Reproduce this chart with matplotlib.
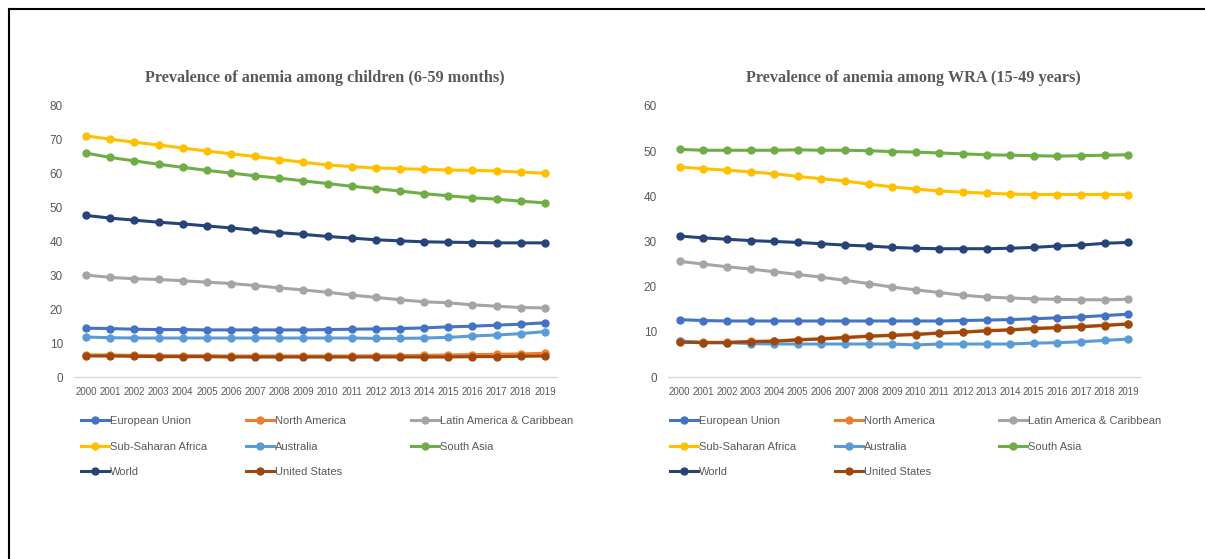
import matplotlib.pyplot as plt
from matplotlib.lines import Line2D

years = [str(y) for y in range(2000, 2020)]

series_names = ['European Union', 'North America', 'Latin America & Caribbean',
                'Sub-Saharan Africa', 'Australia', 'South Asia', 'World', 'United States']
series_colors = ['#4472C4', '#ED7D31', '#A5A5A5', '#FFC000',
                 '#5B9BD5', '#70AD47', '#264478', '#9E480E']

# children 6-59 months
child_eu = [14.4, 14.3, 14.1, 14.0, 14.0, 13.9, 13.9, 13.9, 13.9, 13.9,
            14.0, 14.1, 14.2, 14.3, 14.5, 14.8, 15.0, 15.3, 15.6, 16.0]
child_na = [6.5, 6.5, 6.4, 6.3, 6.3, 6.3, 6.2, 6.2, 6.2, 6.2,
            6.2, 6.2, 6.3, 6.3, 6.4, 6.5, 6.6, 6.7, 6.8, 7.0]
child_lac = [30.1, 29.4, 29.0, 28.8, 28.4, 28.0, 27.6, 27.0, 26.3, 25.7,
             25.0, 24.2, 23.5, 22.8, 22.2, 21.9, 21.3, 20.9, 20.5, 20.4]
child_ssa = [71.2, 70.2, 69.3, 68.5, 67.6, 66.7, 65.9, 65.1, 64.2, 63.4,
             62.6, 62.1, 61.7, 61.5, 61.3, 61.1, 61.0, 60.8, 60.5, 60.1]
child_aus = [11.8, 11.6, 11.5, 11.5, 11.5, 11.5, 11.5, 11.5, 11.5, 11.5,
             11.5, 11.5, 11.4, 11.4, 11.5, 11.7, 12.1, 12.4, 12.8, 13.4]
child_sa = [66.1, 64.8, 63.8, 62.8, 61.9, 61.0, 60.2, 59.4, 58.7, 57.9,
            57.1, 56.3, 55.6, 54.9, 54.1, 53.5, 52.9, 52.5, 51.9, 51.4]
child_world = [47.7, 46.9, 46.3, 45.7, 45.2, 44.6, 44.0, 43.3, 42.6, 42.1,
               41.5, 41.0, 40.5, 40.2, 39.9, 39.8, 39.7, 39.6, 39.6, 39.6]
child_us = [6.2, 6.2, 6.1, 6.0, 6.0, 6.0, 5.9, 5.9, 5.9, 5.9,
            5.9, 5.9, 5.9, 5.9, 5.9, 5.9, 6.0, 6.0, 6.1, 6.2]

# women of reproductive age 15-49 years
wra_eu = [12.7, 12.5, 12.4, 12.4, 12.4, 12.4, 12.4, 12.4, 12.4, 12.4,
          12.4, 12.4, 12.5, 12.6, 12.7, 12.9, 13.1, 13.3, 13.6, 13.9]
wra_na = [7.9, 7.7, 7.7, 7.9, 8.0, 8.3, 8.5, 8.8, 9.1, 9.3,
          9.5, 9.8, 10.0, 10.3, 10.5, 10.8, 11.0, 11.2, 11.5, 11.8]
wra_lac = [25.6, 25.0, 24.4, 23.9, 23.3, 22.7, 22.1, 21.4, 20.7, 19.9,
           19.3, 18.7, 18.1, 17.7, 17.5, 17.3, 17.2, 17.1, 17.1, 17.2]
wra_ssa = [46.5, 46.1, 45.8, 45.4, 45.0, 44.4, 43.9, 43.4, 42.7, 42.1,
           41.6, 41.2, 40.9, 40.7, 40.5, 40.4, 40.4, 40.4, 40.4, 40.4]
wra_aus = [8.0, 7.6, 7.6, 7.4, 7.3, 7.3, 7.3, 7.3, 7.3, 7.3,
           7.1, 7.3, 7.3, 7.3, 7.3, 7.5, 7.6, 7.8, 8.1, 8.4]
wra_sa = [50.4, 50.2, 50.2, 50.2, 50.2, 50.3, 50.2, 50.2, 50.1, 49.9,
          49.8, 49.6, 49.4, 49.2, 49.1, 49.0, 48.9, 49.0, 49.1, 49.2]
wra_world = [31.2, 30.8, 30.5, 30.2, 30.0, 29.8, 29.5, 29.2, 29.0, 28.7,
             28.5, 28.4, 28.4, 28.4, 28.5, 28.7, 29.0, 29.2, 29.6, 29.8]
wra_us = [7.7, 7.6, 7.6, 7.8, 7.9, 8.2, 8.4, 8.7, 9.0, 9.2,
          9.4, 9.7, 9.9, 10.2, 10.4, 10.7, 10.9, 11.1, 11.4, 11.7]

child_data = [child_eu, child_na, child_lac, child_ssa, child_aus, child_sa, child_world, child_us]
wra_data = [wra_eu, wra_na, wra_lac, wra_ssa, wra_aus, wra_sa, wra_world, wra_us]

gray = '#595959'
W, H = 1205, 559


def draw_panel(fig, rect, data, title, ymax, title_x, legend_x):
    ax = fig.add_axes(rect)
    x = list(range(len(years)))
    for vals, color in zip(data, series_colors):
        ax.plot(x, vals, color=color, lw=2.2, marker='o', ms=5, solid_capstyle='round')
    ax.set_xlim(-0.5, len(years) - 0.5)
    ax.set_ylim(0, ymax)
    ax.set_yticks(range(0, ymax + 1, 10))
    ax.set_xticks(x)
    ax.set_xticklabels(years)
    for s in ['top', 'right', 'left']:
        ax.spines[s].set_visible(False)
    ax.spines['bottom'].set_color('#D9D9D9')
    ax.spines['bottom'].set_linewidth(1)
    ax.tick_params(axis='both', length=0, labelcolor=gray)
    ax.tick_params(axis='y', pad=8, labelsize=8.5)
    ax.tick_params(axis='x', pad=7, labelsize=7)
    for lab in ax.get_xticklabels() + ax.get_yticklabels():
        lab.set_family('Liberation Sans')
    fig.text(title_x / W, 1 - 78 / H, title, ha='center', va='center',
             family='Liberation Serif', weight='bold', fontsize=11.7, color=gray)

    handles = [Line2D([], [], color=c, lw=2.2, marker='o', ms=5) for c in series_colors]
    # excel fills the legend row by row, three columns
    for col in range(3):
        idx = list(range(col, len(series_names), 3))
        leg = fig.legend([handles[i] for i in idx], [series_names[i] for i in idx],
                         loc='upper left', bbox_to_anchor=(legend_x[col] / W, 1 - 416 / H),
                         frameon=False, handlelength=2.5, handletextpad=0.1,
                         labelspacing=1.4, borderaxespad=0, borderpad=0,
                         prop={'family': 'Liberation Sans', 'size': 8})
        for t in leg.get_texts():
            t.set_color(gray)
    return ax


def main():
    fig = plt.figure(figsize=(W / 100, H / 100), dpi=100)
    bottom = 1 - 377 / H
    height = (377 - 106) / H
    draw_panel(fig, [74 / W, bottom, 483 / W, height], child_data,
               'Prevalence of anemia among children (6-59 months)', 80, 325, [81, 246, 411])
    draw_panel(fig, [668 / W, bottom, 472 / W, height], wra_data,
               'Prevalence of anemia among WRA (15-49 years)', 60, 913, [670, 835, 999])

    # frame of the pasted picture: only top and left edges show
    fig.add_artist(Line2D([9 / W, 1], [1 - 9 / H, 1 - 9 / H], color='black', lw=1.5))
    fig.add_artist(Line2D([9 / W, 9 / W], [0, 1 - 9 / H], color='black', lw=1.5))

    fig.savefig('out.png', dpi=100)


if __name__ == '__main__':
    main()
